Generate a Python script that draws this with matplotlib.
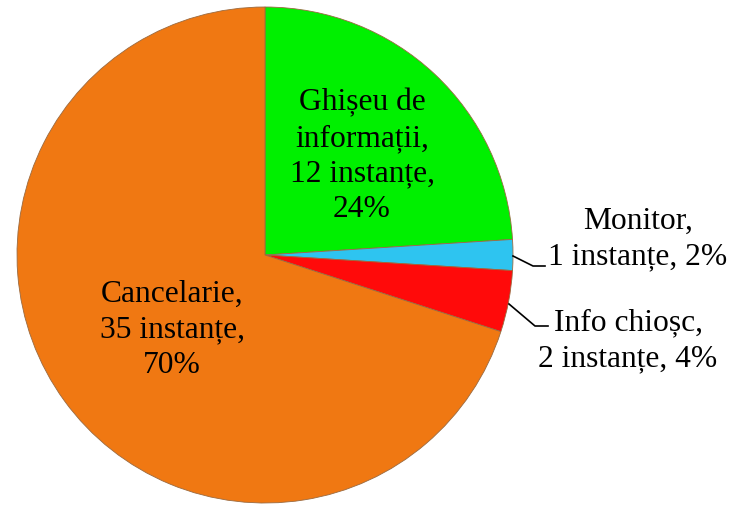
import matplotlib
matplotlib.use("Agg")
import matplotlib.pyplot as plt

categories = ["Ghișeu de\ninformații", "Monitor", "Info chioșc", "Cancelarie"]
counts = [12, 1, 2, 35]
percents = [24, 2, 4, 70]
colors = ["#00F000", "#2EC4F0", "#FF0A0A", "#F07812"]

plt.rcParams['font.family'] = ['Liberation Serif', 'DejaVu Serif']

W, H = 733, 506
fig = plt.figure(figsize=(W / 100, H / 100), dpi=100)
cx, cy, R = 265, 256, 248
ax = fig.add_axes([(cx - R) / W, (H - cy - R) / H, 2 * R / W, 2 * R / H])

wedges, _ = ax.pie(counts, colors=colors, startangle=90, counterclock=False,
                   radius=1, wedgeprops=dict(edgecolor="#9a6a40", linewidth=0.6))
ax.set_xlim(-1, 1)
ax.set_ylim(-1, 1)
ax.set_aspect('equal')
ax.axis('off')

fs = 22.7
ls = 1.3

def px(x, y):
    # pixel -> data coords
    return ((x - cx) / R, (cy - y) / R)

# Inside labels
gx, gy = px(362, 156)
ax.text(gx, gy, f"{categories[0]},\n{counts[0]} instanțe,\n{percents[0]}%",
        ha='center', va='center', fontsize=fs, linespacing=ls)
ox, oy = px(172, 330)
ax.text(ox, oy, f"{categories[3]},\n{counts[3]} instanțe,\n{percents[3]}%",
        ha='center', va='center', fontsize=fs, linespacing=ls)

# Outside labels with leader lines
mx, my = px(638, 239)
ax.text(mx, my, f"{categories[1]},\n{counts[1]} instanțe, {percents[1]}%",
        ha='center', va='center', fontsize=fs, linespacing=ls)
ix, iy = px(628, 341)
ax.text(ix, iy, f"{categories[2]},\n{counts[2]} instanțe, {percents[2]}%",
        ha='center', va='center', fontsize=fs, linespacing=ls)

for pts in ([(513, 257), (533, 267), (545, 267)],
            [(509, 305), (535, 327), (548, 327)]):
    xs, ys = zip(*[px(x, y) for x, y in pts])
    ax.plot(xs, ys, color='black', linewidth=1.2, clip_on=False)

fig.savefig("out.png", dpi=100)
